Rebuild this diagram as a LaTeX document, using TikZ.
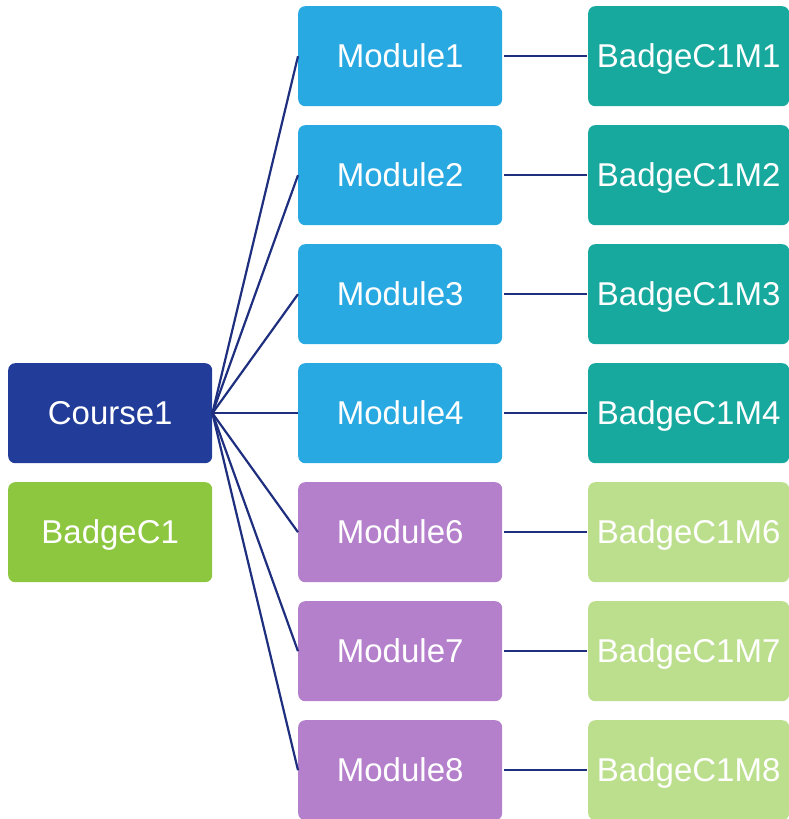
\documentclass[tikz,border=0pt]{standalone}
\usepackage{fontspec}
\setmainfont{Liberation Sans}
\definecolor{coursecol}{HTML}{213C99}
\definecolor{coursebadge}{HTML}{8DC63F}
\definecolor{modblue}{HTML}{29A9E1}
\definecolor{modpurple}{HTML}{B580CB}
\definecolor{badgeteal}{HTML}{17A89E}
\definecolor{badgelight}{HTML}{BCDF8E}
\definecolor{linkcol}{HTML}{1F2F7F}
\tikzset{
  box/.style={rectangle, rounded corners=7pt, minimum width=204pt, minimum height=100pt,
    inner sep=0pt, text=white, font=\fontsize{33pt}{36pt}\selectfont,
    text height=24pt, text depth=2pt, anchor=north west},
  badgebox/.style={box, minimum width=201pt},
  link/.style={draw=linkcol, line width=2.2pt},
}
\begin{document}
\begin{tikzpicture}[x=1pt,y=-1pt]
  \useasboundingbox (0,0) rectangle (789,819);
  % course and its badge
  \node[box, fill=coursecol] (c) at (8,363) {Course1};
  \node[box, fill=coursebadge] (cb) at (8,482) {BadgeC1};
  % modules
  \node[box, fill=modblue] (m1) at (298,6) {Module1};
  \node[box, fill=modblue] (m2) at (298,125) {Module2};
  \node[box, fill=modblue] (m3) at (298,244) {Module3};
  \node[box, fill=modblue] (m4) at (298,363) {Module4};
  \node[box, fill=modpurple] (m6) at (298,482) {Module6};
  \node[box, fill=modpurple] (m7) at (298,601) {Module7};
  \node[box, fill=modpurple] (m8) at (298,720) {Module8};
  % module badges
  \node[badgebox, fill=badgeteal] (b1) at (588,6) {BadgeC1M1};
  \node[badgebox, fill=badgeteal] (b2) at (588,125) {BadgeC1M2};
  \node[badgebox, fill=badgeteal] (b3) at (588,244) {BadgeC1M3};
  \node[badgebox, fill=badgeteal] (b4) at (588,363) {BadgeC1M4};
  \node[badgebox, fill=badgelight] (b6) at (588,482) {BadgeC1M6};
  \node[badgebox, fill=badgelight] (b7) at (588,601) {BadgeC1M7};
  \node[badgebox, fill=badgelight] (b8) at (588,720) {BadgeC1M8};
  % connectors
  \foreach \m in {m1,m2,m3,m4,m6,m7,m8}
    \draw[link] (c.east) -- (\m.west);
  \foreach \m/\b in {m1/b1,m2/b2,m3/b3,m4/b4,m6/b6,m7/b7,m8/b8}
    \draw[link] ([xshift=2pt]\m.east) -- ([xshift=-1pt]\b.west);
\end{tikzpicture}
\end{document}
